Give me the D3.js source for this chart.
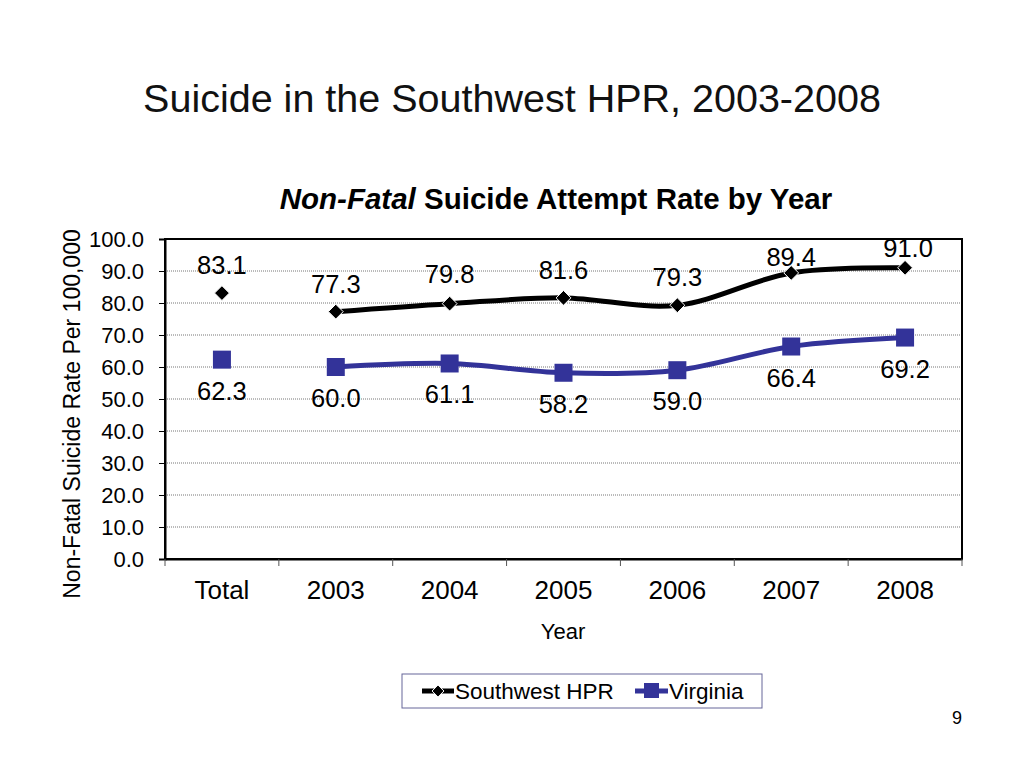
<!DOCTYPE html>
<html><head><meta charset="utf-8">
<script src="https://cdn.jsdelivr.net/npm/d3@7"></script>
<style>body{margin:0;background:#fff;}svg{display:block;font-family:"Liberation Sans",Arial,sans-serif;}</style>
</head><body>
<svg id="c" width="1024" height="768"></svg>
<script>
const categories = ["Total","2003","2004","2005","2006","2007","2008"];
const southwestHPR = [83.1,77.3,79.8,81.6,79.3,89.4,91.0];
const virginia = [62.3,60.0,61.1,58.2,59.0,66.4,69.2];
const yTicks = [0,10,20,30,40,50,60,70,80,90,100];
const swLabelDy = [-28,-28,-30,-28,-28,-16,-20];

const svg = d3.select("#c");
const L=165,R=962,T=239,B=559;
const x = d3.scaleBand().domain(categories).range([L,R]);
const y = d3.scaleLinear().domain([0,100]).range([B,T]);
const cx = c => x(c)+x.bandwidth()/2;
const FF = "Liberation Sans, Arial, sans-serif";

// titles
svg.append("text").attr("x",512).attr("y",112).attr("text-anchor","middle").attr("font-size",39.5).attr("fill","#111").text("Suicide in the Southwest HPR, 2003-2008");
const ct = svg.append("text").attr("x",556).attr("y",209).attr("text-anchor","middle").attr("font-size",29.5).attr("font-weight","bold").attr("fill","#000");
ct.append("tspan").attr("font-style","italic").text("Non-Fatal");
ct.append("tspan").text(" Suicide Attempt Rate by Year");

// gridlines
svg.append("g").selectAll("line").data(yTicks.filter(v=>v>0&&v<100)).join("line")
  .attr("x1",L).attr("x2",R).attr("y1",d=>y(d)).attr("y2",d=>y(d))
  .attr("stroke","#777").attr("stroke-width",1).attr("stroke-dasharray","1,1");

// frame
svg.append("rect").attr("x",L).attr("y",T).attr("width",R-L).attr("height",B-T).attr("fill","none").attr("stroke","#000").attr("stroke-width",2);

// y axis
const ya = svg.append("g").attr("transform",`translate(${L},0)`)
  .call(d3.axisLeft(y).tickValues(yTicks).tickFormat(d3.format(".1f")).tickSize(6).tickPadding(15));
ya.select(".domain").attr("stroke","#000").attr("stroke-width",2);
ya.selectAll("line").attr("stroke","#000");
ya.selectAll("text").attr("font-size",22).attr("fill","#000").attr("font-family",FF);

// x axis
const xa = svg.append("g").attr("transform",`translate(0,${B})`)
  .call(d3.axisBottom(x).tickSize(0).tickPadding(22));
xa.select(".domain").attr("stroke","#000").attr("stroke-width",2);
xa.selectAll("text").attr("font-size",26).attr("fill","#000").attr("font-family",FF);
svg.append("g").selectAll("line").data(d3.range(categories.length+1)).join("line")
  .attr("x1",i=>L+i*x.bandwidth()).attr("x2",i=>L+i*x.bandwidth()).attr("y1",B).attr("y2",B+7)
  .attr("stroke","#555").attr("stroke-width",1);

// axis titles
svg.append("text").attr("transform","translate(80,414) rotate(-90)").attr("text-anchor","middle").attr("font-size",23).attr("fill","#000").text("Non-Fatal Suicide Rate Per 100,000");
svg.append("text").attr("x",563).attr("y",639).attr("text-anchor","middle").attr("font-size",22).attr("fill","#000").text("Year");

// lines
const line = d3.line().x(d=>cx(d.c)).y(d=>y(d.v)).curve(d3.curveCardinal.tension(0));
const swPts = categories.map((c,i)=>({c,v:southwestHPR[i],i}));
const vaPts = categories.map((c,i)=>({c,v:virginia[i],i}));
svg.append("path").attr("d",line(vaPts.slice(1))).attr("fill","none").attr("stroke","#333399").attr("stroke-width",5);
svg.append("path").attr("d",line(swPts.slice(1))).attr("fill","none").attr("stroke","#000").attr("stroke-width",5);

// markers
svg.append("g").selectAll("rect").data(vaPts).join("rect")
  .attr("x",d=>cx(d.c)-9).attr("y",d=>y(d.v)-9).attr("width",18).attr("height",18).attr("fill","#333399");
const dia = d3.symbol().type(d3.symbolDiamond2).size(140);
svg.append("g").selectAll("path").data(swPts).join("path")
  .attr("d",dia).attr("transform",d=>`translate(${cx(d.c)},${y(d.v)})`).attr("fill","#000").attr("stroke","#fff").attr("stroke-width",1);

// labels
svg.append("g").selectAll("text").data(swPts).join("text")
  .attr("x",d=>cx(d.c)+(d.i===6?3:0)).attr("y",d=>y(d.v)+swLabelDy[d.i]+9).attr("text-anchor","middle").attr("font-size",25.5).attr("fill","#000")
  .text(d=>d.v.toFixed(1));
svg.append("g").selectAll("text").data(vaPts).join("text")
  .attr("x",d=>cx(d.c)).attr("y",d=>y(d.v)+31+9).attr("text-anchor","middle").attr("font-size",25.5).attr("fill","#000")
  .text(d=>d.v.toFixed(1));

// legend
const lg = svg.append("g");
lg.append("rect").attr("x",402).attr("y",674).attr("width",360).attr("height",34).attr("fill","#fff").attr("stroke","#666699").attr("stroke-width",1);
lg.append("line").attr("x1",422).attr("x2",454).attr("y1",691).attr("y2",691).attr("stroke","#000").attr("stroke-width",5);
lg.append("path").attr("d",d3.symbol().type(d3.symbolDiamond2).size(90)).attr("transform","translate(438,691)").attr("fill","#000").attr("stroke","#fff");
lg.append("text").attr("x",455).attr("y",699).attr("font-size",22.5).attr("fill","#000").text("Southwest HPR");
lg.append("line").attr("x1",635).attr("x2",668).attr("y1",691).attr("y2",691).attr("stroke","#333399").attr("stroke-width",5);
lg.append("rect").attr("x",644).attr("y",683).attr("width",15).attr("height",15).attr("fill","#333399");
lg.append("text").attr("x",669).attr("y",699).attr("font-size",22.5).attr("fill","#000").text("Virginia");

svg.append("text").attr("x",957).attr("y",724).attr("text-anchor","middle").attr("font-size",18).attr("fill","#000").text("9");
</script>
</body></html>
